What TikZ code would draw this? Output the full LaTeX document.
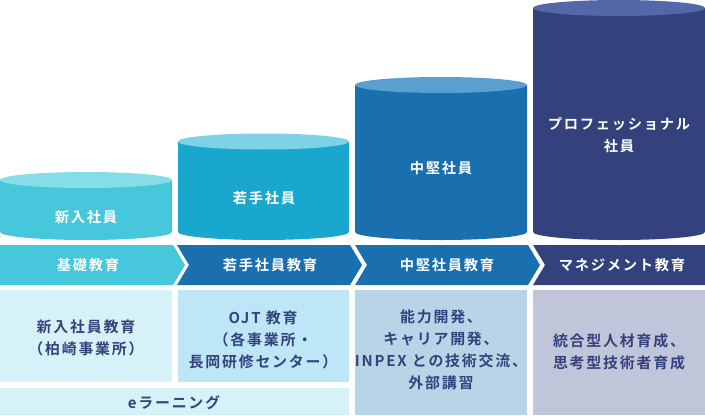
\documentclass[tikz,border=0pt]{standalone}
\usepackage{fontspec}
\setmainfont{Noto Sans CJK JP}[BoldFont={* Bold}, LetterSpace=12]

\definecolor{cyanA}{HTML}{47C7DC}
\definecolor{cyanAlid}{HTML}{86DCE7}
\definecolor{cyanB}{HTML}{1AA7CD}
\definecolor{cyanBlid}{HTML}{7DD2E6}
\definecolor{blueC}{HTML}{1A6FAE}
\definecolor{blueClid}{HTML}{5B9FD0}
\definecolor{navyD}{HTML}{33427D}
\definecolor{navyDlid}{HTML}{5467A8}
\definecolor{paleA}{HTML}{D7F1F8}
\definecolor{paleB}{HTML}{BDE7F6}
\definecolor{paleC}{HTML}{B8D5E8}
\definecolor{paleD}{HTML}{C1C5D9}
\definecolor{inktext}{HTML}{34437E}

% drum: left x, right x, lid y, body colour, lid colour
\newcommand{\drum}[5]{%
  \fill[#4] (#1,#3) -- (#1,183) arc[start angle=180, end angle=360, x radius={(#2-#1)/2}, y radius=8] -- (#2,#3) -- cycle;
  \fill[#5] ({(#1+#2)/2},#3) ellipse[x radius={(#2-#1)/2}, y radius=8];
}

\begin{document}
\begin{tikzpicture}[x=0.75pt, y=0.75pt,
    head/.style={text=white, font=\bfseries\fontsize{10.7}{16}\selectfont, align=center, inner sep=0pt},
    boxtxt/.style={text=inktext, font=\bfseries\fontsize{11.2}{16.5}\selectfont, align=center, inner sep=0pt}]
  \useasboundingbox (0,0) rectangle (705,415);

  % drums
  \drum{0}{172}{235}{cyanA}{cyanAlid}
  \drum{178}{349}{273.5}{cyanB}{cyanBlid}
  \drum{355}{527}{330}{blueC}{blueClid}
  \drum{533}{705}{407}{navyD}{navyDlid}

  \node[head] (newhire) at (86,198) {新入社員};
  \node[head] (young) at (264,217) {若手社員};
  \node[head] (mid) at (441,247) {中堅社員};
  \node[head] (pro) at (619,280) {プロフェッショナル\\社員};

  % arrow band
  \fill[cyanA] (0,170) -- (173,170) -- (185,150) -- (173,130) -- (0,130) -- cycle;
  \fill[blueC] (177,170) -- (350,170) -- (362,150) -- (350,130) -- (177,130) -- (189,150) -- cycle;
  \fill[blueC] (355,170) -- (528,170) -- (540,150) -- (528,130) -- (355,130) -- (367,150) -- cycle;
  \fill[navyD] (533,170) -- (705,170) -- (705,130) -- (533,130) -- (545,150) -- cycle;

  \node[head] (basic) at (88,150) {基礎教育};
  \node[head] (youngedu) at (270,150) {若手社員教育};
  \node[head] (midedu) at (447,150) {中堅社員教育};
  \node[head] (mgmt) at (622,150) {マネジメント教育};

  % boxes
  \fill[paleA] (0,33) rectangle (172,125);
  \fill[paleB] (178,33) rectangle (349,125);
  \fill[paleC] (355,0) rectangle (527,125);
  \fill[paleD] (533,0) rectangle (705,125);
  \fill[paleA] (0,0) rectangle (349,27);

  \node[boxtxt] (box1) at (86,77) {新入社員教育\\（柏崎事業所）};
  \node[boxtxt] (box2) at (263,75) {OJT 教育\\（各事業所・\\長岡研修センター）};
  \node[boxtxt] (box3) at (441,65) {能力開発、\\キャリア開発、\\INPEX との技術交流、\\外部講習};
  \node[boxtxt] (box4) at (619,63) {統合型人材育成、\\思考型技術者育成};
  \node[boxtxt] (elearn) at (174,12) {eラーニング};
\end{tikzpicture}
\end{document}
